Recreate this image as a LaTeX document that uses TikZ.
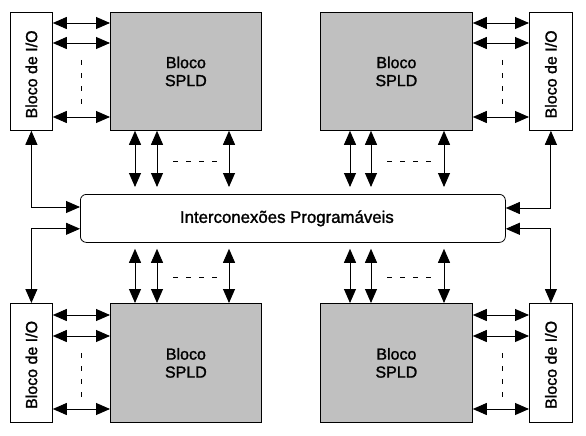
\documentclass[tikz,border=0pt]{standalone}
\usepackage{fontspec}
\setmainfont[FakeBold=1.5]{Liberation Sans}
\usetikzlibrary{arrows.meta,calc}
\definecolor{spldgray}{HTML}{C0C0C0}
\begin{document}
\begin{tikzpicture}[x=1pt,y=-1pt,
  spld/.style={draw=black, line width=0.8pt, fill=spldgray, minimum width=151pt, minimum height=118pt, anchor=north west, inner sep=0pt, align=center, font=\fontsize{16}{18}\selectfont},
  iob/.style={draw=black, line width=0.8pt, fill=white, minimum width=42pt, minimum height=118pt, anchor=north west, inner sep=0pt},
  iotext/.style={rotate=90, inner sep=0pt, font=\fontsize{16}{18}\selectfont},
  icbox/.style={draw=black, line width=0.8pt, rounded corners=6pt, minimum width=425pt, minimum height=48pt, anchor=north west, inner sep=0pt, font=\fontsize{16.8}{18}\selectfont},
  arr/.style={line width=0.9pt, {Triangle[length=14pt,width=12pt]}-{Triangle[length=14pt,width=12pt]}},
  dsh/.style={line width=0.6pt, dash pattern=on 5pt off 8pt}]
\useasboundingbox (0,0) rectangle (586,436);
\fill[white] (0,0) rectangle (586,436);

% blocks
\node[iob] (io1) at (10,12) {};
\node[spld] (s1) at (110,12) {Bloco\\SPLD};
\node[spld, minimum width=152pt] (s2) at (320,12) {Bloco\\SPLD};
\node[iob, minimum width=43pt] (io2) at (529,12) {};
\node[icbox] (ic) at (80,194) {Interconexões Programáveis\hspace*{12pt}};
\node[iob, minimum height=119pt] (io3) at (10,303) {};
\node[spld, minimum height=119pt] (s3) at (110,303) {Bloco\\SPLD};
\node[spld, minimum width=152pt, minimum height=119pt] (s4) at (320,303) {Bloco\\SPLD};
\node[iob, minimum width=43pt, minimum height=119pt] (io4) at (529,303) {};

\node[iotext] (t1) at ([yshift=-3pt]io1.center) {Bloco de I/O};
\node[iotext] (t2) at ([yshift=-3pt]io2.center) {Bloco de I/O};
\node[iotext] (t3) at ([yshift=-2pt]io3.center) {Bloco de I/O};
\node[iotext] (t4) at ([yshift=-2pt]io4.center) {Bloco de I/O};

% I/O <-> SPLD arrows
\foreach \dy in {11,31,105} {
  \draw[arr] ($(io1.north east)+(0,\dy)$) -- ($(s1.north west)+(0,\dy)$);
  \draw[arr] ($(s2.north east)+(0,\dy)$) -- ($(io2.north west)+(0,\dy)$);
}
\foreach \dy in {12,33,106} {
  \draw[arr] ($(io3.north east)+(0,\dy)$) -- ($(s3.north west)+(0,\dy)$);
  \draw[arr] ($(s4.north east)+(0,\dy)$) -- ($(io4.north west)+(0,\dy)$);
}
\draw[dsh] ($(io1.north east)+(28,48)$) -- ++(0,47);
\draw[dsh] ($(s2.north east)+(29,48)$) -- ++(0,47);
\draw[dsh] ($(io3.north east)+(28,50)$) -- ++(0,44);
\draw[dsh] ($(s4.north east)+(29,50)$) -- ++(0,44);

% SPLD <-> interconnect arrows
\foreach \dx in {25,47,119} {
  \draw[arr] ($(s1.south west)+(\dx,0)$) -- ($(s1.south west |- ic.north)+(\dx,-7)$);
  \draw[arr] ($(s3.north west |- ic.south)+(\dx,6)$) -- ($(s3.north west)+(\dx,0)$);
}
\foreach \dx in {30,51,124} {
  \draw[arr] ($(s2.south west)+(\dx,0)$) -- ($(s2.south west |- ic.north)+(\dx,-7)$);
  \draw[arr] ($(s4.north west |- ic.south)+(\dx,6)$) -- ($(s4.north west)+(\dx,0)$);
}
\draw[dsh] ($(s1.south west)+(63,30)$) -- ++(45,0);
\draw[dsh] ($(s2.south west)+(67,30)$) -- ++(45,0);
\draw[dsh] ($(s3.north west)+(63,-26)$) -- ++(45,0);
\draw[dsh] ($(s4.north west)+(67,-26)$) -- ++(45,0);

% I/O <-> interconnect
\coordinate (l1) at ($(ic.north west)+(0,13)$);
\coordinate (l2) at ($(ic.south west)+(0,-14)$);
\coordinate (r1) at ($(ic.north east)+(0,14)$);
\coordinate (r2) at ($(ic.south east)+(0,-14)$);
\draw[arr] (io1.south) |- (l1);
\draw[arr] (l2) -| (io3.north);
\draw[arr] (io2.south) |- (r1);
\draw[arr] (r2) -| (io4.north);
\end{tikzpicture}
\end{document}
